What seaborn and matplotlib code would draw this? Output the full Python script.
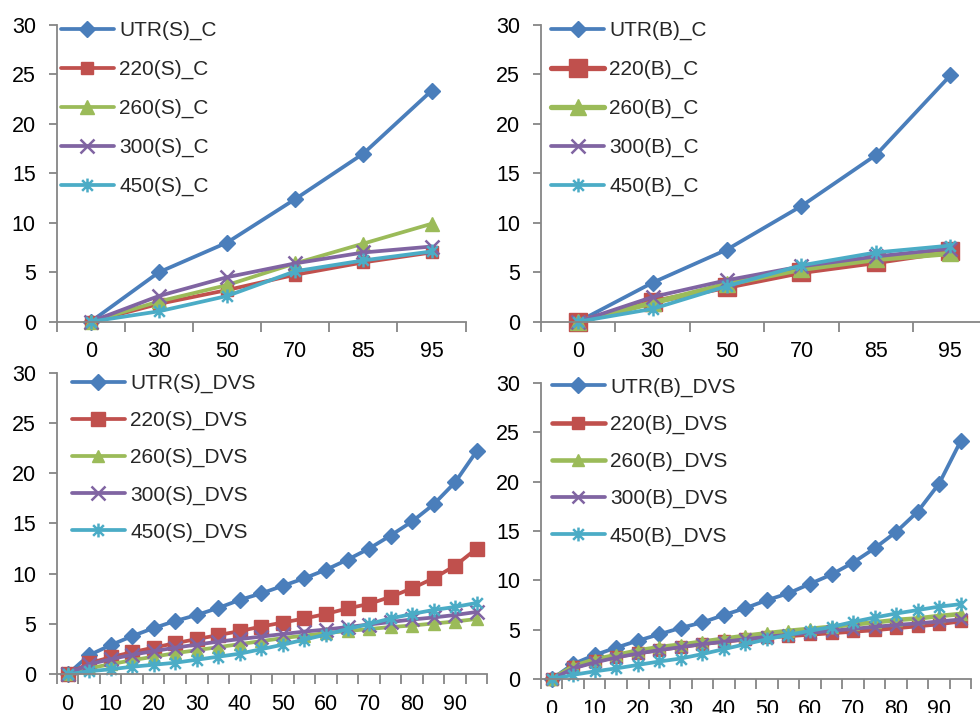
import numpy as np
import pandas as pd
import matplotlib
matplotlib.use('Agg')
import matplotlib.pyplot as plt
from matplotlib.path import Path
import seaborn as sns

# categories on the x axis
cats_c = ['0', '30', '50', '70', '85', '95']
cats_dvs = [str(v) for v in range(0, 100, 5)]

# top left: (S)_C
utr_s_c = [0, 5.0, 8.0, 12.4, 17.0, 23.35]
s220_c = [0, 1.8, 3.2, 4.75, 6.0, 7.0]
s260_c = [0, 2.05, 3.7, 5.9, 7.9, 9.9]
s300_c = [0, 2.6, 4.5, 5.9, 7.0, 7.6]
s450_c = [0, 1.05, 2.6, 5.1, 6.2, 7.1]

# top right: (B)_C
utr_b_c = [0, 3.95, 7.3, 11.7, 16.85, 24.9]
b220_c = [0, 2.0, 3.5, 5.0, 6.0, 7.1]
b260_c = [0, 1.9, 3.8, 5.3, 6.3, 6.9]
b300_c = [0, 2.5, 4.2, 5.6, 6.6, 7.4]
b450_c = [0, 1.3, 3.6, 5.7, 7.0, 7.7]

# bottom left: (S)_DVS
utr_s_dvs = [0, 1.9, 2.9, 3.8, 4.6, 5.3, 5.9, 6.6, 7.4, 8.05,
             8.8, 9.55, 10.4, 11.4, 12.5, 13.8, 15.2, 16.9, 19.1, 22.2]
s220_dvs = [0, 1.1, 1.7, 2.2, 2.65, 3.1, 3.5, 3.9, 4.3, 4.75,
            5.15, 5.55, 6.0, 6.55, 7.0, 7.7, 8.55, 9.55, 10.8, 12.5]
s260_dvs = [0, 0.6, 1.0, 1.4, 1.75, 2.1, 2.4, 2.7, 3.0, 3.3,
            3.6, 3.85, 4.1, 4.3, 4.5, 4.7, 4.85, 5.05, 5.25, 5.5]
s300_dvs = [0, 1.0, 1.5, 1.95, 2.3, 2.65, 2.95, 3.25, 3.5, 3.75,
            4.0, 4.25, 4.45, 4.7, 4.95, 5.2, 5.45, 5.65, 5.9, 6.2]
s450_dvs = [0, 0.3, 0.5, 0.75, 0.95, 1.15, 1.45, 1.75, 2.05, 2.5,
            2.95, 3.45, 3.95, 4.5, 5.0, 5.55, 6.0, 6.4, 6.7, 7.1]

# bottom right: (B)_DVS
utr_b_dvs = [0, 1.55, 2.45, 3.2, 3.9, 4.55, 5.2, 5.75, 6.5, 7.2,
             8.0, 8.7, 9.65, 10.6, 11.8, 13.25, 14.9, 16.95, 19.8, 24.1]
b220_dvs = [0, 1.2, 1.8, 2.3, 2.65, 3.0, 3.3, 3.6, 3.85, 4.05,
            4.25, 4.4, 4.55, 4.7, 4.85, 5.0, 5.2, 5.4, 5.6, 5.9]
b260_dvs = [0, 1.3, 2.0, 2.45, 2.9, 3.25, 3.5, 3.8, 4.1, 4.4,
            4.65, 4.9, 5.1, 5.3, 5.55, 5.75, 6.0, 6.15, 6.4, 6.6]
b300_dvs = [0, 1.1, 1.7, 2.2, 2.6, 2.95, 3.25, 3.55, 3.8, 4.05,
            4.3, 4.5, 4.7, 4.9, 5.1, 5.3, 5.5, 5.65, 5.85, 6.05]
b450_dvs = [0, 0.45, 0.8, 1.1, 1.45, 1.8, 2.1, 2.55, 3.05, 3.55,
            4.05, 4.5, 4.9, 5.3, 5.8, 6.25, 6.65, 7.0, 7.35, 7.6]

sns.set_style('white')
plt.rcParams['font.family'] = ['Liberation Sans', 'DejaVu Sans']

blue, red, green, purple, cyan = '#4A7EBB', '#C0504D', '#9BBB59', '#8064A2', '#4BACC6'
gray = '#868686'

# Excel style star: an x plus a vertical bar
star = Path([(-1, -1), (1, 1), (-1, 1), (1, -1), (0, -1.3), (0, 1.3)],
            [Path.MOVETO, Path.LINETO] * 3)

fig = plt.figure(figsize=(9.8, 7.13), dpi=100)
ax_tl = fig.add_axes([0.0578, 0.5488, 0.4173, 0.4161])
ax_tr = fig.add_axes([0.5520, 0.5488, 0.4557, 0.4161])
ax_bl = fig.add_axes([0.0580, 0.0543, 0.4394, 0.4230])
ax_br = fig.add_axes([0.5519, 0.0473, 0.4394, 0.4160])


def draw(ax, cats, series, labels, sizes, widths, label_step, leg_x, leg_y, spacing):
    x = np.arange(len(cats))
    colors = [blue, red, green, purple, cyan]
    markers = ['D', 's', '^', 'x', star]
    for vals, lab, col, mk, ms, lw in zip(series, labels, colors, markers, sizes, widths):
        sns.lineplot(x=x, y=vals, ax=ax, color=col, label=lab, marker=mk,
                     markersize=ms, linewidth=lw, markeredgecolor=col,
                     markeredgewidth=1.8 if (mk == 'x' or mk is star) else 1,
                     clip_on=False)
    ax.set_xlim(-0.5, len(cats) - 0.5)
    ax.set_ylim(0, 30)
    ax.set_yticks(range(0, 31, 5))
    ax.set_xticks(x[::label_step])
    ax.set_xticklabels(cats[::label_step])
    ax.set_xticks(np.arange(-0.5, len(cats), 1.0), minor=True)
    for s in ['top', 'right']:
        ax.spines[s].set_visible(False)
    for s in ['left', 'bottom']:
        ax.spines[s].set_color(gray)
        ax.spines[s].set_linewidth(1.3)
    ax.tick_params(axis='y', which='major', left=True, length=6, width=1.3,
                   color=gray, labelsize=15.5, pad=9, labelcolor='black')
    ax.tick_params(axis='x', which='major', bottom=True, length=0,
                   labelsize=15.5, pad=14, labelcolor='black')
    ax.tick_params(axis='x', which='minor', bottom=True, length=7, width=1.3,
                   color=gray)
    ax.set_xlabel('')
    ax.set_ylabel('')
    ax.legend(loc='upper left', bbox_to_anchor=(leg_x, leg_y), frameon=False,
              fontsize=15, handlelength=2.55, handletextpad=0.25,
              labelspacing=spacing, borderaxespad=0, borderpad=0.1)


draw(ax_tl, cats_c, [utr_s_c, s220_c, s260_c, s300_c, s450_c],
     ['UTR(S)_C', '220(S)_C', '260(S)_C', '300(S)_C', '450(S)_C'],
     [8.5, 9, 9.5, 10, 10], [2.7] * 5, 1, 0.005, 1.021, 0.95)
draw(ax_tr, cats_c, [utr_b_c, b220_c, b260_c, b300_c, b450_c],
     ['UTR(B)_C', '220(B)_C', '260(B)_C', '300(B)_C', '450(B)_C'],
     [8.5, 13, 12, 10, 10], [2.7, 3.8, 3.8, 2.7, 2.7], 1, 0.018, 1.021, 0.95)
draw(ax_bl, cats_dvs, [utr_s_dvs, s220_dvs, s260_dvs, s300_dvs, s450_dvs],
     ['UTR(S)_DVS', '220(S)_DVS', '260(S)_DVS', '300(S)_DVS', '450(S)_DVS'],
     [8.5, 9.5, 9, 9.5, 10], [2.7] * 5, 2, 0.03, 1.003, 0.86)
draw(ax_br, cats_dvs, [utr_b_dvs, b220_dvs, b260_dvs, b300_dvs, b450_dvs],
     ['UTR(B)_DVS', '220(B)_DVS', '260(B)_DVS', '300(B)_DVS', '450(B)_DVS'],
     [8.5, 8.5, 9, 9, 10], [2.7, 3.3, 3.3, 2.7, 2.7], 2, 0.02, 1.024, 0.86)

fig.savefig('out.png', dpi=100)
